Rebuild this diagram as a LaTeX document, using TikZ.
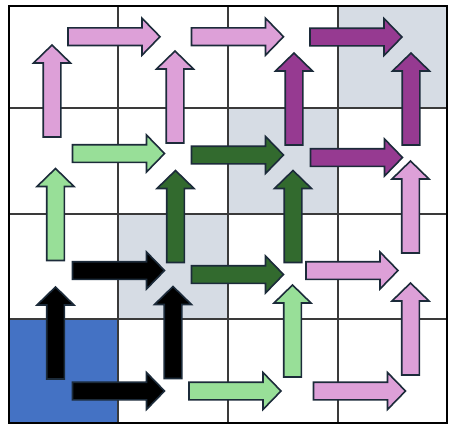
\documentclass[tikz,border=0pt]{standalone}
\usetikzlibrary{calc}

\definecolor{cellgray}{HTML}{D6DCE4}
\definecolor{cellblue}{HTML}{4472C4}
\definecolor{apink}{HTML}{DDA0D8}
\definecolor{apurple}{HTML}{963A91}
\definecolor{alightgreen}{HTML}{98DF98}
\definecolor{adarkgreen}{HTML}{326A2E}
\definecolor{aedge}{HTML}{1C2B3A}
\definecolor{gridline}{HTML}{3A3A3A}

\tikzset{
  % block arrow, tail centre at the origin, pointing along +x
  blockarrow/.pic={
    \path[pic actions]
      (0,-8.8) -- (74,-8.8) -- (74,-18.5) -- (92,0) -- (74,18.5) -- (74,8.8) -- (0,8.8) -- cycle;
  },
  arr/.style={draw=aedge, line width=1.6pt, line join=miter},
  pinkarr/.style={arr, fill=apink},
  purplearr/.style={arr, fill=apurple},
  lgreenarr/.style={arr, fill=alightgreen},
  dgreenarr/.style={arr, fill=adarkgreen},
  blackarr/.style={arr, fill=black},
  up/.style={rotate=90},
  gridstyle/.style={draw=gridline, line width=1.1pt},
}

\begin{document}
\begin{tikzpicture}[x=1pt, y=-1pt]
\useasboundingbox (0,0) rectangle (450,424);
\fill[white] (0,0) rectangle (450,424);

% shaded cells
\fill[cellgray] (338,6) rectangle (447,108);
\fill[cellgray] (228,108) rectangle (338,214);
\fill[cellgray] (118,214) rectangle (228,319);
\fill[cellblue] (9,319) rectangle (118,423);

% grid
\foreach \gx in {118,228,338} \draw[gridstyle] (\gx,6) -- (\gx,423);
\foreach \gy in {108,214,319} \draw[gridstyle] (9,\gy) -- (447,\gy);
\draw[black, line width=2.6pt] (9,6) rectangle (447,423);

% row of arrows along the top
\pic[pinkarr] (h00) at (68,36.7) {blockarrow};
\pic[pinkarr] (h01) at (191.5,36.7) {blockarrow};
\pic[purplearr] (h02) at (310,37) {blockarrow};

% second row
\pic[lgreenarr] (h10) at (72.5,153.5) {blockarrow};
\pic[dgreenarr] (h11) at (191.5,155) {blockarrow};
\pic[purplearr] (h12) at (310.5,157.5) {blockarrow};

% third row
\pic[blackarr] (h20) at (72.5,270.5) {blockarrow};
\pic[dgreenarr] (h21) at (191.5,274.5) {blockarrow};
\pic[pinkarr] (h22) at (306,270.5) {blockarrow};

% bottom row
\pic[blackarr] (h30) at (72.5,391) {blockarrow};
\pic[lgreenarr] (h31) at (189,391) {blockarrow};
\pic[pinkarr] (h32) at (313.5,391) {blockarrow};

% upward arrows, between the top two rows
\pic[pinkarr, up] (v00) at (52,137) {blockarrow};
\pic[pinkarr, up] (v01) at (175,143) {blockarrow};
\pic[purplearr, up] (v02) at (294,145) {blockarrow};
\pic[purplearr, up] (v03) at (411,145) {blockarrow};

% upward arrows, between rows two and three
\pic[lgreenarr, up] (v10) at (55.5,260.5) {blockarrow};
\pic[dgreenarr, up] (v11) at (175.5,262.5) {blockarrow};
\pic[dgreenarr, up] (v12) at (293,262.5) {blockarrow};
\pic[pinkarr, up] (v13) at (410.5,253) {blockarrow};

% upward arrows, between rows three and four
\pic[blackarr, up] (v20) at (55.5,379) {blockarrow};
\pic[blackarr, up] (v21) at (173,378.5) {blockarrow};
\pic[lgreenarr, up] (v22) at (292.5,377) {blockarrow};
\pic[pinkarr, up] (v23) at (410.5,375) {blockarrow};
\end{tikzpicture}
\end{document}
